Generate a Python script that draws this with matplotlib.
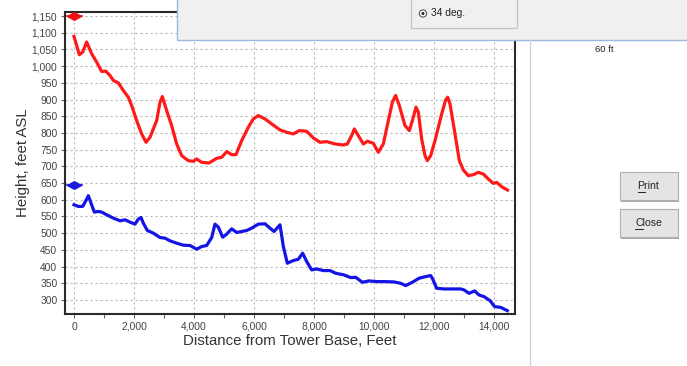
import matplotlib
matplotlib.use("Agg")
import matplotlib.pyplot as plt
from matplotlib.patches import Rectangle, Circle
from matplotlib.path import Path
from matplotlib.ticker import MultipleLocator, FuncFormatter

plt.rcParams['font.family'] = ['Liberation Sans', 'DejaVu Sans']

# Terrain profile along the path (distance in feet, height in feet ASL)
upper_dist = [0, 178, 289, 422, 589, 756, 922, 1056, 1200, 1311, 1478, 1644, 1811, 1922,
              2089, 2256, 2400, 2533, 2756, 2867, 2944, 3089, 3256, 3422, 3589, 3811, 3978,
              4089, 4256, 4500, 4756, 4922, 5089, 5256, 5400, 5589, 5811, 5978, 6144, 6367,
              6589, 6867, 7089, 7311, 7511, 7756, 7978, 8200, 8422, 8700, 8978, 9111, 9256,
              9344, 9478, 9644, 9780, 9978, 10144, 10311, 10478, 10611, 10722, 10844, 11033,
              11178, 11311, 11400, 11478, 11589, 11700, 11778, 11889, 12033, 12256, 12389,
              12456, 12533, 12700, 12844, 12978, 13144, 13311, 13478, 13644, 13811, 13978,
              14089, 14256, 14450]
upper_height = [1089, 1034, 1042, 1072, 1037, 1012, 984, 985, 972, 957, 950, 927, 907, 882,
                837, 797, 772, 787, 837, 892, 909, 867, 822, 767, 732, 717, 715,
                722, 712, 710, 724, 727, 744, 735, 735, 777, 817, 842, 852, 842,
                827, 809, 802, 797, 807, 805, 785, 772, 774, 767, 764, 767, 792,
                812, 792, 767, 775, 769, 742, 767, 837, 892, 912, 882, 822,
                807, 847, 877, 862, 782, 732, 717, 732, 777, 857, 899,
                907, 887, 797, 717, 689, 672, 675, 682, 677, 662, 649,
                652, 639, 629]

lower_dist = [0, 144, 289, 400, 478, 567, 678, 811, 922, 1089, 1311, 1533, 1700, 1867, 2033,
              2144, 2233, 2311, 2444, 2644, 2867, 3033, 3200, 3422, 3644, 3867, 4089, 4256,
              4422, 4589, 4700, 4811, 4956, 5089, 5256, 5422, 5589, 5756, 5922, 6144, 6367,
              6533, 6667, 6867, 6978, 7111, 7311, 7478, 7622, 7756, 7922, 8089, 8311, 8533,
              8722, 9000, 9222, 9389, 9611, 9833, 10111, 10389, 10667, 10889, 11056, 11278,
              11500, 11722, 11889, 11944, 12089, 12333, 12611, 12889, 13000, 13167, 13356,
              13500, 13667, 13867, 14022, 14222, 14444]
lower_height = [585, 580, 580, 598, 612, 590, 563, 565, 563, 555, 545, 537, 540, 533, 527,
                542, 547, 530, 508, 500, 487, 485, 477, 470, 464, 463, 452, 460,
                463, 487, 527, 518, 488, 497, 513, 502, 505, 508, 515, 527, 528,
                515, 505, 525, 460, 410, 418, 422, 440, 415, 390, 393, 388, 388,
                380, 375, 367, 368, 353, 357, 355, 355, 354, 350, 343, 353,
                365, 370, 373, 365, 335, 333, 333, 333, 330, 320, 327,
                315, 310, 298, 280, 278, 268]

# Antenna heights at the tower base
tower_dist = [0, 0]
tower_height = [1150, 645]
tower_colors = ['#ee1111', '#1a1ad8']

W, H = 687, 366
fig = plt.figure(figsize=(W / 100, H / 100), dpi=100)
fig.patch.set_facecolor('white')

ax = fig.add_axes([65 / W, (H - 314) / H, 450 / W, 302 / H])
ax.set_xlim(-300, 14700)
ax.set_ylim(258, 1162)

ax.plot(upper_dist, upper_height, color='#ff1a1a', lw=2.3, solid_joinstyle='round', zorder=3)
ax.plot(lower_dist, lower_height, color='#1414e6', lw=2.3, solid_joinstyle='round', zorder=3)

# wide diamond marker with a short horizontal bar
diamond = Path([(-1, 0), (0, 0.55), (1, 0), (0, -0.55), (-1, 0)],
               [Path.MOVETO, Path.LINETO, Path.LINETO, Path.LINETO, Path.CLOSEPOLY])
for xd, yd, c in zip(tower_dist, tower_height, tower_colors):
    ax.plot([xd - 250, xd + 250], [yd, yd], color=c, lw=1.2, zorder=4)
    ax.plot([xd], [yd], marker=diamond, markersize=10, color=c, zorder=5)

ax.xaxis.set_major_locator(MultipleLocator(2000))
ax.xaxis.set_minor_locator(MultipleLocator(1000))
ax.set_yticks(range(300, 1151, 50))
fmt = FuncFormatter(lambda v, p: f"{int(v):,}")
ax.xaxis.set_major_formatter(fmt)
ax.yaxis.set_major_formatter(fmt)

ax.grid(True, which='major', color='#b8b8b8', lw=0.8, linestyle=(0, (2, 2.5)))
ax.tick_params(axis='both', which='major', length=3, width=0.8, color='#666',
               labelsize=7.4, labelcolor='#444', pad=2.5)
ax.tick_params(axis='x', which='minor', length=3, width=0.8, color='#666')
for s in ax.spines.values():
    s.set_color('#2a2a2a')
    s.set_linewidth(1.5)

ax.set_xlabel('Distance from Tower Base, Feet', fontsize=10.8, color='#333', labelpad=2)
ax.set_ylabel('Height, feet ASL', fontsize=10.8, color='#333', labelpad=1.5)

# Window chrome drawn in pixel coordinates
ui = fig.add_axes([0, 0, 1, 1], zorder=10)
ui.set_xlim(0, W)
ui.set_ylim(H, 0)
ui.axis('off')
ui.patch.set_alpha(0)

# separator between plot and side panel
ui.plot([530, 530], [40, H], color='#cfd3d8', lw=1.0)

# overlapping dialog at the top
ui.add_patch(Rectangle((177, -5), 520, 46, facecolor='#d8d8d8', edgecolor='none', alpha=0.5))
ui.add_patch(Rectangle((176.5, -5), 520, 45, facecolor='#f0f0f0', edgecolor='#9bb9de', lw=1.0))
ui.add_patch(Rectangle((411, -5), 106, 32.5, facecolor='none', edgecolor='#c4c4c4', lw=0.9))
ui.add_patch(Circle((423, 13.5), 3.6, facecolor='white', edgecolor='#555', lw=0.8))
ui.add_patch(Circle((423, 13.5), 1.5, facecolor='#222', edgecolor='none'))
ui.text(431, 13.5, '34 deg.', fontsize=7.4, color='#222', va='center', ha='left')

ui.text(604, 49, '60 ft', fontsize=6.8, color='#222', ha='center', va='center')

# buttons
for (y0, label) in [(172, 'Print'), (209, 'Close')]:
    ui.add_patch(Rectangle((621, y0 + 1), 58, 29, facecolor='#a8a8a8', edgecolor='none'))
    ui.add_patch(Rectangle((619.5, y0), 58, 28, facecolor='#e4e4e4', edgecolor='#b0b0b0', lw=0.8))
    t = ui.text(648.5, y0 + 14, label, fontsize=7.6, color='#222', ha='center', va='center')
    fig.canvas.draw()
    bb = t.get_window_extent()
    first = ui.text(0, 0, label[0], fontsize=7.6)
    fb = first.get_window_extent()
    first.remove()
    x_left = bb.x0
    x_right = bb.x0 + fb.width
    y_under = H - bb.y0 + 0.5
    ui.plot([x_left, x_right], [y_under, y_under], color='#222', lw=0.7)

fig.savefig('out.png', dpi=100, facecolor='white')
